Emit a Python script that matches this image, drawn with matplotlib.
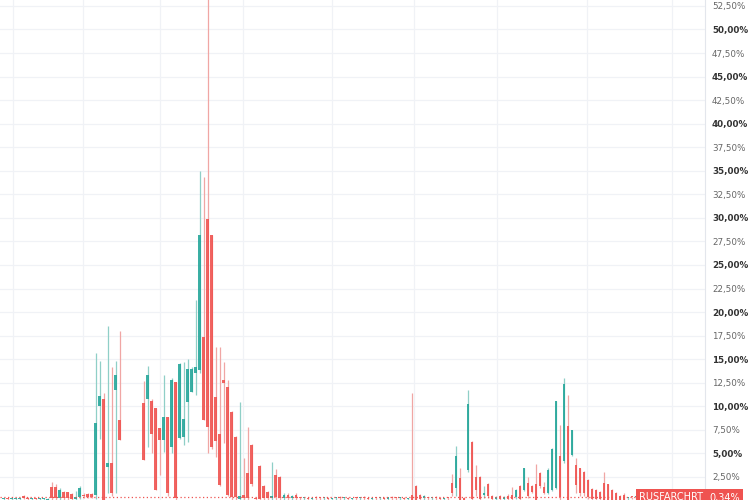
import numpy as np
import matplotlib
matplotlib.use("Agg")
import matplotlib.pyplot as plt

nan = np.nan
# OHLC of each period (percent); NaN = no data
opens = [0.2,0.2,0.15,0.2,0.2,0.5,0.3,0.2,0.2,0.15,0.2,0.1,1.46,1.4,0.25,0.95,0.9,0.7,0.2,0.4,
         0.6,0.7,0.7,0.58,10.0,10.8,3.6,4.0,11.7,8.5,nan,nan,nan,nan,nan,10.3,10.8,10.6,9.8,7.7,
         6.4,8.9,5.7,12.6,6.6,6.7,10.5,11.5,13.5,13.8,17.4,29.9,28.2,11.0,7.1,12.8,12.0,9.4,6.7,0.2,
         0.6,2.9,5.9,0.3,3.7,1.5,0.9,0.3,2.7,2.5,0.3,0.6,0.3,0.6,0.3,0.25,0.3,0.2,0.35,0.3,
         0.25,0.3,0.2,0.3,0.35,0.25,0.3,0.2,0.3,0.25,0.35,0.3,0.2,0.3,0.25,0.3,0.2,0.35,0.3,0.25,
         0.3,0.2,0.6,1.5,0.6,0.3,0.3,0.25,0.35,0.3,0.2,0.3,1.9,1.3,2.4,0.3,3.2,6.2,2.5,2.5,
         0.6,1.8,0.5,0.2,0.5,0.2,0.5,0.6,0.4,1.5,1.1,1.9,1.5,1.8,2.9,1.4,0.8,1.1,1.3,4.7,
         4.2,7.9,4.8,3.8,3.4,3.0,2.2,1.2,1.1,0.9,1.85,1.75,1.1,0.8,0.5,0.6,0.3,0.35,0.34]
highs = [0.3,0.3,0.25,0.3,0.3,0.6,0.35,0.3,0.3,0.3,0.3,0.3,2.0,1.75,1.3,1.0,0.95,0.8,1.0,1.5,
         0.75,0.8,0.8,15.7,14.8,11.4,18.5,14.2,14.8,18.0,nan,nan,nan,nan,nan,12.7,14.3,10.8,9.8,7.7,
         13.3,8.9,13.0,12.6,14.6,14.7,15.0,14.2,21.3,35.0,34.3,60.0,28.2,16.3,16.3,14.7,12.8,9.5,6.8,10.5,
         4.5,7.8,6.0,0.35,3.8,1.6,1.0,4.1,3.3,2.6,0.8,0.8,0.6,0.8,0.4,0.35,0.4,0.3,0.45,0.4,
         0.35,0.4,0.3,0.4,0.45,0.35,0.4,0.3,0.4,0.35,0.45,0.4,0.3,0.4,0.35,0.4,0.3,0.45,0.4,0.35,
         0.4,0.3,11.4,1.6,0.7,0.6,0.4,0.35,0.45,0.4,0.3,0.4,2.8,5.8,3.4,0.4,11.7,6.3,3.8,2.6,
         1.5,1.9,0.6,0.5,0.6,0.5,0.7,1.4,1.2,1.65,3.5,2.5,1.6,3.9,3.0,2.0,3.4,5.6,10.6,8.0,
         13.0,11.2,7.5,4.5,3.5,3.1,2.3,1.3,1.2,1.0,3.05,1.8,1.2,0.9,0.6,0.8,0.4,0.4,0.4]
lows = [0.1,0.1,0.1,0.1,0.1,0.2,0.1,0.1,0.1,0.1,0.1,0.05,0.1,0.1,0.05,0.1,0.1,0.1,0.1,0.2,
        0.3,0.3,0.3,0.2,6.5,0.05,0.8,0.5,0.8,6.4,nan,nan,nan,nan,nan,4.3,5.7,5.0,1.1,2.7,
        5.2,0.5,5.0,0.1,6.5,5.9,6.2,11.5,11.2,13.5,8.5,5.0,5.5,4.6,1.5,6.1,0.5,0.05,0.1,0.05,
        0.1,0.05,1.5,0.1,0.05,0.1,0.1,0.1,0.1,0.1,0.1,0.1,0.1,0.1,0.1,0.1,0.1,0.1,0.1,0.1,
        0.1,0.1,0.1,0.1,0.1,0.1,0.1,0.1,0.1,0.1,0.1,0.1,0.1,0.1,0.1,0.1,0.1,0.1,0.1,0.1,
        0.1,0.1,0.05,0.05,0.1,0.1,0.1,0.1,0.1,0.1,0.1,0.1,0.5,0.5,0.05,0.05,3.0,0.1,0.5,0.1,
        0.3,0.3,0.1,0.1,0.1,0.1,0.1,0.1,0.2,0.1,1.0,0.3,0.8,0.05,1.3,0.7,0.7,1.0,1.2,0.1,
        4.0,0.05,4.7,0.8,0.5,0.5,0.2,0.1,0.1,0.1,0.05,0.05,0.1,0.1,0.1,0.1,0.1,0.2,0.2]
closes = [0.2,0.15,0.2,0.2,0.25,0.3,0.2,0.2,0.15,0.2,0.2,0.2,0.27,0.27,1.1,0.25,0.3,0.2,0.35,1.3,
          0.5,0.4,0.4,8.2,11.1,0.05,4.0,0.76,13.3,6.4,nan,nan,nan,nan,nan,4.3,13.3,7.1,1.1,6.4,
          8.9,0.76,12.8,0.23,14.5,8.6,14.0,14.0,14.2,28.2,8.5,7.8,5.7,6.3,1.6,12.5,0.58,0.4,0.4,0.5,
          0.3,0.3,1.7,0.2,0.2,0.3,0.3,0.5,0.4,0.3,0.6,0.3,0.5,0.3,0.25,0.3,0.2,0.3,0.3,0.25,
          0.3,0.2,0.3,0.35,0.25,0.3,0.2,0.3,0.25,0.35,0.3,0.2,0.3,0.25,0.3,0.2,0.35,0.3,0.25,0.3,
          0.2,0.3,0.1,0.1,0.2,0.5,0.25,0.35,0.3,0.2,0.3,0.25,0.8,4.7,0.1,0.1,10.2,0.2,1.1,0.2,
          0.8,0.5,0.2,0.35,0.2,0.4,0.15,0.2,1.1,0.2,3.4,0.5,0.9,0.05,1.5,0.8,3.2,5.5,10.6,0.4,
          12.35,0.05,7.5,1.6,0.8,0.8,0.4,0.2,0.2,0.2,0.05,0.05,0.1,0.1,0.1,0.1,0.35,0.34,0.34]

ytick_vals = [2.5 * i for i in range(1, 22)]
ytick_labels = [f"{v:.2f}".replace(".", ",") + "%" for v in ytick_vals]
time_grid = [2.3, 19.8, 39.1, 59.8, 82.1, 102.6, 123.3, 145.8, 167.1]
symbol = "RUSFARCHRT"
last_label = "0,34%"
last_value = 0.34

UP, DOWN = "#26a69a", "#ef5350"
UPW, DOWNW = "#8fcfc7", "#f0a6a4"

o = np.array(opens, float); h = np.array(highs, float)
l = np.array(lows, float); c = np.array(closes, float)
idx = np.arange(len(o))
ok = ~np.isnan(o)
up = c >= o

W, H = 750, 500
fig = plt.figure(figsize=(7.5, 5), dpi=100)
fig.patch.set_facecolor("white")
ax = fig.add_axes([0, 0, 705 / W, 1])
ax.set_xlim(-0.925, 175.3)
ax.set_ylim(0.053, 53.13)

for v in ytick_vals:
    ax.axhline(v, color="#f0f2f6", lw=0.9, zorder=0)
for t in time_grid:
    ax.axvline(t, color="#f0f2f6", lw=0.9, zorder=0)

for mask, cb, cw in [(ok & up, UP, UPW), (ok & ~up, DOWN, DOWNW)]:
    ax.vlines(idx[mask], l[mask], h[mask], color=cw, lw=0.9, zorder=2)
    bot = np.minimum(o[mask], c[mask])
    hei = np.maximum(np.abs(c[mask] - o[mask]), 0.1)
    ax.bar(idx[mask], hei, bottom=bot, width=0.62, color=cb, alpha=0.9,
           linewidth=0, zorder=3)

ax.axhline(last_value, color=DOWN, lw=0.9, ls=(0, (1, 2)), zorder=4)

ax.set_xticks([])
ax.yaxis.tick_right()
ax.set_yticks(ytick_vals)
ax.set_yticklabels(ytick_labels)
for v, lab in zip(ytick_vals, ax.get_yticklabels()):
    if abs(v % 5) < 1e-9:
        lab.set_color("#333333"); lab.set_fontweight("bold")
    else:
        lab.set_color("#666666")
ax.tick_params(axis="y", length=0, pad=5, labelsize=6.3)
for s in ["top", "left", "bottom"]:
    ax.spines[s].set_visible(False)
ax.spines["right"].set_color("#e3e6ec")
ax.spines["right"].set_linewidth(0.8)

ax.text(174.8, last_value, symbol, ha="right", va="center", color="white",
        fontsize=7, zorder=6,
        bbox=dict(boxstyle="square,pad=0.35", fc=DOWN, ec="none"))
fig.text(709 / W, 1 - 497.5 / H, last_label, ha="left", va="center", color="white",
         fontsize=7, bbox=dict(boxstyle="square,pad=0.35", fc=DOWN, ec="none"))

fig.savefig("out.png", dpi=100, facecolor="white")
